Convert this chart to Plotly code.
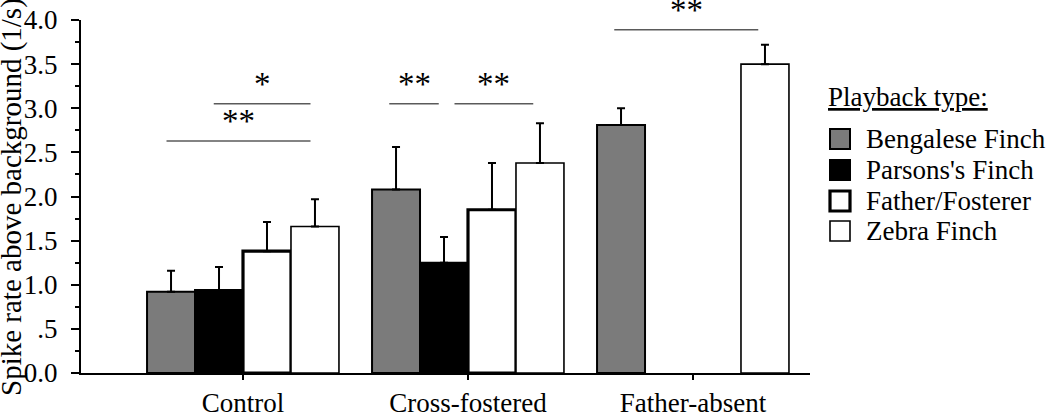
import plotly.graph_objects as go

# ---------------- data ----------------
groups = ["Control", "Cross-fostered", "Father-absent"]
series = ["Bengalese Finch", "Parsons's Finch", "Father/Fosterer", "Zebra Finch"]

bengalese = [0.92, 2.08, 2.81]
parsons = [0.94, 1.25, None]
father = [1.38, 1.85, None]
zebra = [1.66, 2.38, 3.50]

bengalese_err = [0.24, 0.48, 0.19]
parsons_err = [0.26, 0.29, None]
father_err = [0.33, 0.53, None]
zebra_err = [0.31, 0.45, 0.22]

y_tick_vals = [0, 0.5, 1.0, 1.5, 2.0, 2.5, 3.0, 3.5, 4.0]
y_tick_text = ["0.0", ".5", "1.0", "1.5", "2.0", "2.5", "3.0", "3.5", "4.0"]
y_title = "Spike rate above background (1/s)"
legend_title = "Playback type:"

# significance brackets (category units): start, end, level, label
sig_x0 = [-0.34, -0.13, 0.65, 0.94, 1.65]
sig_x1 = [0.30, 0.30, 0.87, 1.29, 2.29]
sig_level = [2.63, 3.05, 3.05, 3.05, 3.89]
sig_label = ["**", "*", "**", "**", "**"]

# ---------------- style ----------------
FONT = "Liberation Serif"
FS = 27
fills = ["#7b7b7b", "#000000", "#ffffff", "#ffffff"]
outline_w = [2, 2, 3.2, 1.6]

values = [bengalese, parsons, father, zebra]
errors = [bengalese_err, parsons_err, father_err, zebra_err]

fig = go.Figure()
for name, vals, errs, fc, lw in zip(series, values, errors, fills, outline_w):
    fig.add_trace(go.Bar(
        x=groups, y=vals, name=name,
        marker=dict(color=fc, line=dict(color="black", width=lw)),
        error_y=dict(type="data", array=errs, symmetric=False,
                     arrayminus=[0 if e is not None else None for e in errs],
                     color="black", thickness=2, width=4),
        showlegend=False,
    ))

# plot area in pixels
W, H = 1050, 413
L, R, T, B = 81, 810, 20, 373

def px_x(p):
    return (p - L) / (R - L)

def px_y(p):
    return (B - p) / (B - T)

shapes = []
annotations = []
for x0, x1, lev, lab in zip(sig_x0, sig_x1, sig_level, sig_label):
    shapes.append(dict(type="line", xref="x", yref="y", x0=x0, x1=x1, y0=lev, y1=lev,
                       line=dict(color="#5a5a5a", width=1.5)))
    annotations.append(dict(x=(x0 + x1) / 2, y=lev, xref="x", yref="y", text=lab,
                            showarrow=False, yanchor="bottom", yshift=0,
                            font=dict(family=FONT, size=33, color="black")))

# y-axis title (as rotated annotation for exact placement)
annotations.append(dict(x=px_x(11), y=px_y(197), xref="paper", yref="paper",
                        text=y_title, textangle=-90, showarrow=False,
                        xanchor="center", yanchor="middle",
                        font=dict(family=FONT, size=29, color="black")))

# manual legend
annotations.append(dict(x=px_x(826), y=px_y(97), xref="paper", yref="paper",
                        text="<u>" + legend_title + "</u>", showarrow=False,
                        xanchor="left", yanchor="middle",
                        font=dict(family=FONT, size=FS, color="black")))
item_y = [139, 170, 201, 231]
for name, fc, lw, yc in zip(series, fills, outline_w, item_y):
    shapes.append(dict(type="rect", xref="paper", yref="paper",
                       x0=px_x(830), x1=px_x(850), y0=px_y(yc - 10), y1=px_y(yc + 10),
                       fillcolor=fc, line=dict(color="black", width=lw)))
    annotations.append(dict(x=px_x(864), y=px_y(yc), xref="paper", yref="paper",
                            text=name, showarrow=False, xanchor="left", yanchor="middle",
                            font=dict(family=FONT, size=FS, color="black")))

fig.update_layout(
    width=W, height=H,
    margin=dict(l=L, r=W - R, t=T, b=H - B, autoexpand=False),
    paper_bgcolor="white", plot_bgcolor="white",
    barmode="group", bargap=0.147, bargroupgap=0,
    font=dict(family=FONT, size=FS, color="black"),
    shapes=shapes, annotations=annotations,
    showlegend=False,
)
fig.update_xaxes(
    type="category", categoryorder="array", categoryarray=groups,
    range=[-0.72, 2.52], showline=True, linecolor="black", linewidth=2,
    ticks="outside", ticklen=5, tickwidth=1.5, tickcolor="black",
    showgrid=False, zeroline=False, ticklabelstandoff=0,
    tickfont=dict(family=FONT, size=FS, color="black"),
)
fig.update_yaxes(
    range=[0, 4], tickmode="array", tickvals=y_tick_vals, ticktext=y_tick_text,
    showline=True, linecolor="black", linewidth=2,
    ticks="outside", ticklen=8, tickwidth=1.5, tickcolor="black",
    minor=dict(dtick=0.25, tick0=0, ticks="outside", ticklen=4, tickwidth=1.5, tickcolor="black"),
    showgrid=False, zeroline=False, ticklabelstandoff=8,
    tickfont=dict(family=FONT, size=FS, color="black"),
)

fig.write_html("out.html", config={"displayModeBar": False},
               post_script="document.body.style.margin='0';document.body.style.overflow='hidden';")
